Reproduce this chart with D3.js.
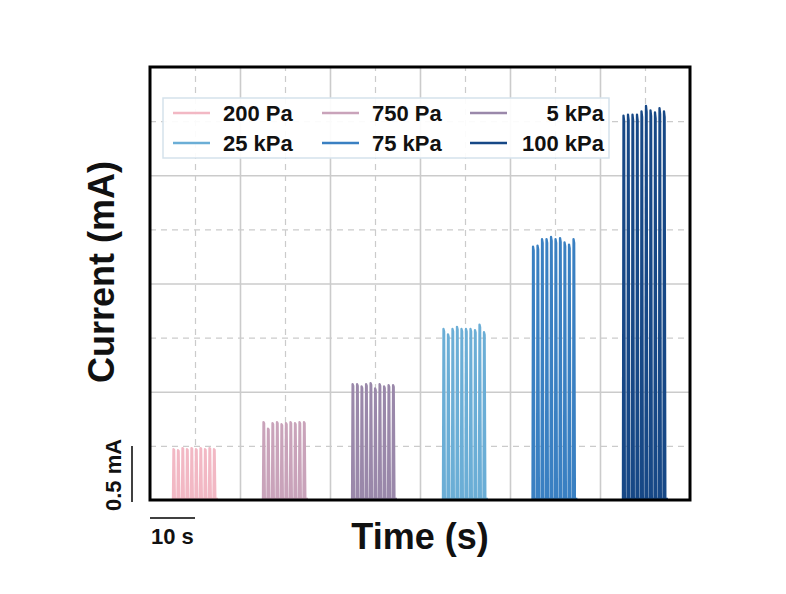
<!doctype html>
<html>
  <head>
    <meta charset="utf-8">
    <title>Current vs Time</title>
    <script type="text/javascript" src="https://d3js.org/d3.v7.min.js"></script>
    <style>
      body { margin: 0; background: #fff; }
      text { font-family: "Liberation Sans", Arial, sans-serif; font-weight: bold; fill: #111; }
    </style>
  </head>
  <body>
    <script>
      // 图例名称 & 颜色
      const labels = ['200 Pa', '750 Pa', '5 kPa', '25 kPa', '75 kPa', '100 kPa'];
      const colors = ['#f2b8c4', '#c9a3ba', '#9a88aa', '#6baed6', '#3a80c2', '#174886'];

      // 每组脉冲开始时间 (s)
      const onsets = [5.1, 25.1, 44.9, 65.1, 85.0, 105.1];

      // 每组各个峰值 (mA)
      const peaks200 = [0.47, 0.46, 0.48, 0.47, 0.48, 0.47, 0.48, 0.47, 0.48, 0.47];
      const peaks750 = [0.72, 0.66, 0.71, 0.72, 0.70, 0.71, 0.72, 0.71, 0.72, 0.72];
      const peaks5k = [1.07, 1.07, 1.05, 1.07, 1.08, 1.03, 1.07, 1.05, 1.06, 1.06];
      const peaks25k = [1.58, 1.53, 1.58, 1.60, 1.58, 1.58, 1.58, 1.57, 1.62, 1.55];
      const peaks75k = [2.34, 2.35, 2.41, 2.41, 2.43, 2.41, 2.42, 2.38, 2.36, 2.41];
      const peaks100k = [3.55, 3.56, 3.56, 3.56, 3.59, 3.64, 3.60, 3.58, 3.62, 3.59];
      const allPeaks = [peaks200, peaks750, peaks5k, peaks25k, peaks75k, peaks100k];

      // 网格刻度
      const xMajor = [20, 40, 60, 80, 100];
      const xMinor = [10, 30, 50, 70, 90, 110];
      const yMajor = [1, 2, 3];
      const yMinor = [0.5, 1.5, 2.5, 3.5];

      const svgWidth = 786;
      const svgHeight = 594;
      const pLeft = 150, pRight = 690, pTop = 67, pBottom = 500;

      const svg = d3.select('body').append('svg')
          .attr('width', svgWidth)
          .attr('height', svgHeight);

      const x = d3.scaleLinear().domain([0, 120]).range([pLeft, pRight]);
      const y = d3.scaleLinear().domain([0, 4]).range([pBottom, pTop]);

      // 网格
      const grid = svg.append('g');
      function styleGrid(g, dash) {
        g.select('.domain').remove();
        g.selectAll('line').attr('stroke', '#cbcbcb').attr('stroke-width', dash ? 1.2 : 1.6)
            .attr('stroke-dasharray', dash ? '6,5' : null);
      }
      function gridX(vals, dash) {
        const g = grid.append('g')
            .attr('transform', `translate(0,${pBottom})`)
            .call(d3.axisBottom(x).tickValues(vals).tickSize(-(pBottom - pTop)).tickFormat(''));
        styleGrid(g, dash);
      }
      function gridY(vals, dash) {
        const g = grid.append('g')
            .attr('transform', `translate(${pLeft},0)`)
            .call(d3.axisLeft(y).tickValues(vals).tickSize(-(pRight - pLeft)).tickFormat(''));
        styleGrid(g, dash);
      }
      gridX(xMinor, true);
      gridX(xMajor, false);
      gridY(yMinor, true);
      gridY(yMajor, false);

      // 脉冲波形：上升 -> 峰 -> 下降 -> 基线
      function pulseTrain(t0, pk) {
        const pts = [];
        pk.forEach((v, i) => {
          const t = t0 + i;
          pts.push([t, 0.01], [t + 0.12, v], [t + 0.26, v * 0.985], [t + 0.42, 0.01], [t + 0.98, 0.01]);
        });
        return pts;
      }

      const line = d3.line()
          .x(d => x(d[0]))
          .y(d => y(d[1]));

      svg.append('g')
        .selectAll('path')
        .data(allPeaks)
        .join('path')
          .attr('d', (d, i) => line(pulseTrain(onsets[i], d)))
          .attr('fill', 'none')
          .attr('stroke', (d, i) => colors[i])
          .attr('stroke-width', 2.3)
          .attr('stroke-linejoin', 'round');

      // 图例
      const legend = svg.append('g');
      legend.append('rect')
          .attr('x', 163).attr('y', 98)
          .attr('width', 446).attr('height', 60)
          .attr('fill', 'rgba(255,255,255,0.92)')
          .attr('stroke', '#d5e2ec')
          .attr('stroke-width', 1.5);

      const colLine = [173, 322, 470];
      const rowY = [113, 143];
      labels.forEach((name, i) => {
        const col = i % 3, row = Math.floor(i / 3);
        legend.append('line')
            .attr('x1', colLine[col]).attr('x2', colLine[col] + 37)
            .attr('y1', rowY[row]).attr('y2', rowY[row])
            .attr('stroke', colors[i])
            .attr('stroke-width', 2.5);
        legend.append('text')
            .attr('x', col === 2 ? 604 : colLine[col] + 50)
            .attr('y', rowY[row] + 8)
            .attr('text-anchor', col === 2 ? 'end' : 'start')
            .attr('font-size', 22)
            .text(name);
      });

      // 边框
      svg.append('rect')
          .attr('x', pLeft).attr('y', pTop)
          .attr('width', pRight - pLeft).attr('height', pBottom - pTop)
          .attr('fill', 'none')
          .attr('stroke', '#000')
          .attr('stroke-width', 3);

      // 比例尺
      svg.append('line')
          .attr('x1', x(0)).attr('x2', x(10))
          .attr('y1', 518).attr('y2', 518)
          .attr('stroke', '#000').attr('stroke-width', 1.5);
      svg.append('text')
          .attr('x', x(0) + 1).attr('y', 544)
          .attr('font-size', 22)
          .text('10 s');

      svg.append('line')
          .attr('x1', 132).attr('x2', 132)
          .attr('y1', y(0) + 2).attr('y2', y(0.5))
          .attr('stroke', '#000').attr('stroke-width', 1.5);
      svg.append('text')
          .attr('transform', `translate(121,${(y(0) + y(0.5)) / 2 + 2}) rotate(-90)`)
          .attr('text-anchor', 'middle')
          .attr('font-size', 22)
          .text('0.5 mA');

      // 坐标轴标题
      svg.append('text')
          .attr('x', (pLeft + pRight) / 2).attr('y', 549)
          .attr('text-anchor', 'middle')
          .attr('font-size', 36)
          .text('Time (s)');
      svg.append('text')
          .attr('transform', 'translate(114,272) rotate(-90)')
          .attr('text-anchor', 'middle')
          .attr('font-size', 36)
          .text('Current (mA)');
    </script>
  </body>
</html>
